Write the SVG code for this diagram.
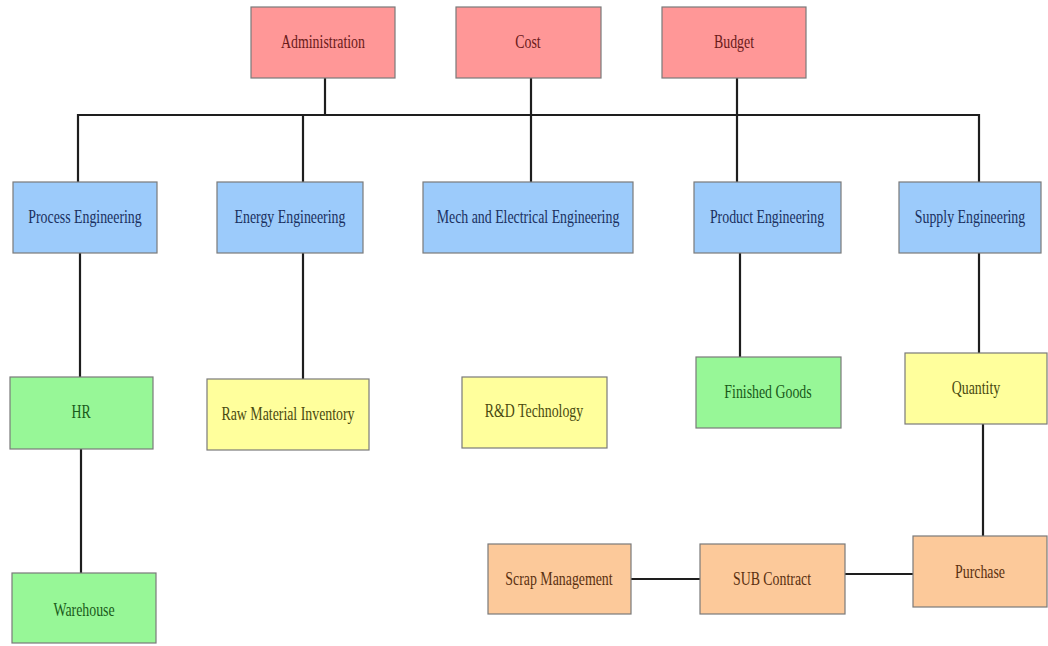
<svg xmlns="http://www.w3.org/2000/svg" width="1048" height="646" viewBox="0 0 1048 646">
<style>
.box{stroke:#7a7a7a;stroke-width:1.2}
.red{fill:#ff9797}.blue{fill:#9ccbfb}.green{fill:#97f797}.yellow{fill:#ffff9c}.orange{fill:#fcc99a}
text{font-family:"Liberation Serif","Times New Roman",serif;font-size:18px;text-anchor:middle;dominant-baseline:central}
.tr{fill:#6a1a1a}.tb{fill:#1a3060}.tg{fill:#1a5a1a}.ty{fill:#4a4a10}.to{fill:#5a3010}
#connectors line{stroke:#1e1e1e;stroke-width:2.2;fill:none}
</style>
<rect width="1048" height="646" fill="#ffffff"/>
<g id="connectors">
<line x1="78" y1="115" x2="979" y2="115"/>
<line x1="325" y1="78" x2="325" y2="115"/>
<line x1="531" y1="78" x2="531" y2="182"/>
<line x1="737" y1="78" x2="737" y2="182"/>
<line x1="78" y1="114" x2="78" y2="182"/>
<line x1="303" y1="115" x2="303" y2="182"/>
<line x1="979" y1="114" x2="979" y2="182"/>
<line x1="80" y1="253" x2="80" y2="377"/>
<line x1="81" y1="449" x2="81" y2="573"/>
<line x1="303" y1="253" x2="303" y2="379"/>
<line x1="740" y1="253" x2="740" y2="357"/>
<line x1="979" y1="253" x2="979" y2="357"/>
<line x1="983" y1="424" x2="983" y2="536"/>
<line x1="631" y1="579" x2="700" y2="579"/>
<line x1="845" y1="574" x2="913" y2="574"/>
</g>
<g id="n-administration"><rect class="box red" x="251" y="7" width="144" height="71"/><text class="tr" transform="matrix(0.77 0 0 1 323 42)">Administration</text></g>
<g id="n-cost"><rect class="box red" x="456" y="7" width="145" height="71"/><text class="tr" transform="matrix(0.77 0 0 1 528 42)">Cost</text></g>
<g id="n-budget"><rect class="box red" x="662" y="7" width="144" height="71"/><text class="tr" transform="matrix(0.77 0 0 1 734 42)">Budget</text></g>
<g id="n-process"><rect class="box blue" x="13" y="182" width="144" height="71"/><text class="tb" transform="matrix(0.77 0 0 1 85 217)">Process Engineering</text></g>
<g id="n-energy"><rect class="box blue" x="217" y="182" width="146" height="71"/><text class="tb" transform="matrix(0.77 0 0 1 290 217)">Energy Engineering</text></g>
<g id="n-mech"><rect class="box blue" x="423" y="182" width="210" height="71"/><text class="tb" transform="matrix(0.77 0 0 1 528 217)">Mech and Electrical Engineering</text></g>
<g id="n-product"><rect class="box blue" x="694" y="182" width="147" height="71"/><text class="tb" transform="matrix(0.77 0 0 1 767 217)">Product Engineering</text></g>
<g id="n-supply"><rect class="box blue" x="899" y="182" width="142" height="71"/><text class="tb" transform="matrix(0.77 0 0 1 970 217)">Supply Engineering</text></g>
<g id="n-hr"><rect class="box green" x="10" y="377" width="143" height="72"/><text class="tg" transform="matrix(0.77 0 0 1 81 412)">HR</text></g>
<g id="n-raw"><rect class="box yellow" x="207" y="379" width="162" height="71"/><text class="ty" transform="matrix(0.77 0 0 1 288 414)">Raw Material Inventory</text></g>
<g id="n-rd"><rect class="box yellow" x="462" y="377" width="145" height="71"/><text class="ty" transform="matrix(0.77 0 0 1 534 411)">R&amp;D Technology</text></g>
<g id="n-finished"><rect class="box green" x="696" y="357" width="145" height="71"/><text class="tg" transform="matrix(0.77 0 0 1 768 392)">Finished Goods</text></g>
<g id="n-quantity"><rect class="box yellow" x="905" y="353" width="142" height="71"/><text class="ty" transform="matrix(0.77 0 0 1 976 388)">Quantity</text></g>
<g id="n-warehouse"><rect class="box green" x="12" y="573" width="144" height="70"/><text class="tg" transform="matrix(0.77 0 0 1 84 610)">Warehouse</text></g>
<g id="n-scrap"><rect class="box orange" x="488" y="544" width="143" height="70"/><text class="to" transform="matrix(0.77 0 0 1 559 579)">Scrap Management</text></g>
<g id="n-sub"><rect class="box orange" x="700" y="544" width="145" height="70"/><text class="to" transform="matrix(0.77 0 0 1 772 579)">SUB Contract</text></g>
<g id="n-purchase"><rect class="box orange" x="913" y="536" width="134" height="71"/><text class="to" transform="matrix(0.77 0 0 1 980 572)">Purchase</text></g>
</svg>
